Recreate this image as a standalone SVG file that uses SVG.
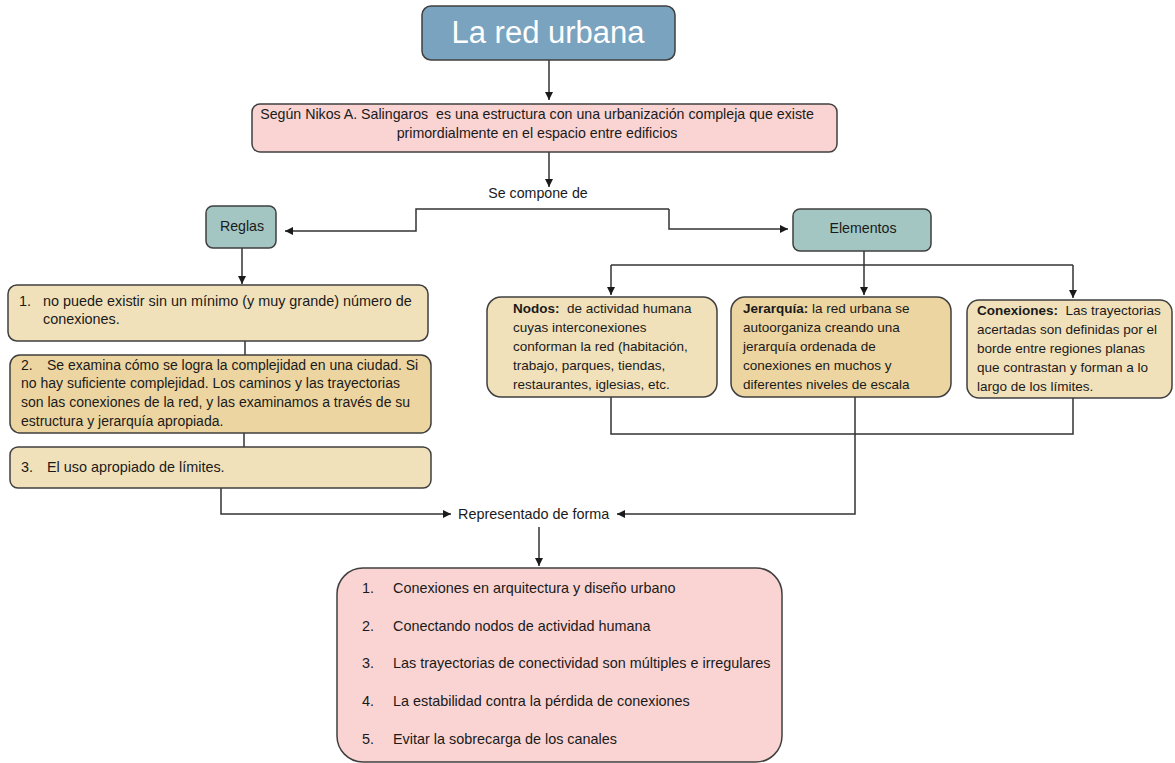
<svg xmlns="http://www.w3.org/2000/svg" width="1175" height="763" viewBox="0 0 1175 763">
<style>
text{font-family:"Liberation Sans",Arial,sans-serif;font-size:13.5px;fill:#1a1a1a;white-space:pre}
.title{font-size:31px;fill:#ffffff}
.l{font-size:14.4px}
.m{font-size:14.2px}
.s{font-size:14px}
.box{stroke:#3f3f3f;stroke-width:1.5}
.blue{fill:#7aa3bf}
.pink{fill:#f9d4d2}
.teal{fill:#a4c6c3}
.tan{fill:#f1e1bb}
.tan2{fill:#ecd5a1}
.c{fill:none;stroke:#333333;stroke-width:1.5}
.b{font-weight:bold}
.mid{text-anchor:middle}
</style>
<defs>
<marker id="ah" markerUnits="userSpaceOnUse" markerWidth="10" markerHeight="10" refX="8" refY="4" orient="auto">
<path d="M0,0 L8,4 L0,8 Z" fill="#1a1a1a"/>
</marker>
</defs>
<g id="connectors">
<path class="c" d="M549 60 V100" marker-end="url(#ah)"/>
<path class="c" d="M549 152 V187" marker-end="url(#ah)"/>
<path class="c" d="M669 209 H416 V231 H285" marker-end="url(#ah)"/>
<path class="c" d="M669 209 V229 H788" marker-end="url(#ah)"/>
<path class="c" d="M242 248 V284" marker-end="url(#ah)"/>
<path class="c" d="M245 341 V355"/>
<path class="c" d="M244 433 V447"/>
<path class="c" d="M221 488 V514 H451" marker-end="url(#ah)"/>
<path class="c" d="M864 251 V265"/>
<path class="c" d="M611 265 H1073"/>
<path class="c" d="M611 265 V295" marker-end="url(#ah)"/>
<path class="c" d="M864 265 V295" marker-end="url(#ah)"/>
<path class="c" d="M1073 265 V298" marker-end="url(#ah)"/>
<path class="c" d="M611 397 V434 H1073 V398"/>
<path class="c" d="M855 397 V514 H617" marker-end="url(#ah)"/>
<path class="c" d="M539 527 V566" marker-end="url(#ah)"/>
</g>
<g id="title">
<rect class="box blue" x="422" y="6" width="253" height="54" rx="9"/>
<text class="title mid" x="548" y="43">La red urbana</text>
</g>
<g id="definicion">
<rect class="box pink" x="252" y="104" width="585" height="48" rx="8"/>
<text class="m mid" x="537" y="119">Según Nikos A. Salingaros  es una estructura con una urbanización compleja que existe</text>
<text class="m mid" x="537" y="138">primordialmente en el espacio entre edificios</text>
</g>
<g id="se-compone">
<text class="m mid" x="538" y="198">Se compone de</text>
</g>
<g id="reglas">
<rect class="box teal" x="206" y="206" width="70" height="42" rx="7"/>
<text class="m mid" x="242" y="231">Reglas</text>
</g>
<g id="regla1">
<rect class="box tan" x="8" y="285" width="420" height="56" rx="9"/>
<text class="l" x="19" y="306">1.</text>
<text class="l" x="43" y="306">no puede existir sin un mínimo (y muy grande) número de</text>
<text class="l" x="43" y="324">conexiones.</text>
</g>
<g id="regla2">
<rect class="box tan2" x="10" y="355" width="421" height="78" rx="10"/>
<text class="s" x="21" y="370">2.</text>
<text class="s" x="47" y="370">Se examina cómo se logra la complejidad en una ciudad. Si</text>
<text class="s" x="21" y="388">no hay suficiente complejidad. Los caminos y las trayectorias</text>
<text class="s" x="21" y="407">son las conexiones de la red, y las examinamos a través de su</text>
<text class="s" x="21" y="426">estructura y jerarquía apropiada.</text>
</g>
<g id="regla3">
<rect class="box tan" x="10" y="447" width="421" height="41" rx="8"/>
<text class="l" x="21" y="472">3.</text>
<text class="l" x="47" y="472">El uso apropiado de límites.</text>
</g>
<g id="elementos">
<rect class="box teal" x="793" y="209" width="138" height="42" rx="7"/>
<text class="m mid" x="863" y="233">Elementos</text>
</g>
<g id="nodos">
<rect class="box tan" x="487" y="297" width="230" height="100" rx="14"/>
<text x="513" y="313"><tspan class="b">Nodos:</tspan>  de actividad humana</text>
<text x="513" y="332">cuyas interconexiones</text>
<text x="513" y="351">conforman la red (habitación,</text>
<text x="513" y="370">trabajo, parques, tiendas,</text>
<text x="513" y="389">restaurantes, iglesias, etc.</text>
</g>
<g id="jerarquia">
<rect class="box tan2" x="731" y="297" width="220" height="100" rx="14"/>
<text x="743" y="313"><tspan class="b">Jerarquía:</tspan> la red urbana se</text>
<text x="743" y="332">autoorganiza creando una</text>
<text x="743" y="351">jerarquía ordenada de</text>
<text x="743" y="370">conexiones en muchos y</text>
<text x="743" y="389">diferentes niveles de escala</text>
</g>
<g id="conexiones">
<rect class="box tan" x="967" y="300" width="205" height="98" rx="12"/>
<text x="977" y="315"><tspan class="b">Conexiones:</tspan>  Las trayectorias</text>
<text x="977" y="334">acertadas son definidas por el</text>
<text x="977" y="353">borde entre regiones planas</text>
<text x="977" y="372">que contrastan y forman a lo</text>
<text x="977" y="391">largo de los límites.</text>
</g>
<g id="representado">
<text class="l" x="458" y="519">Representado de forma</text>
</g>
<g id="formas">
<rect class="box pink" x="337" y="568" width="445" height="194" rx="26"/>
<text class="l" x="362" y="593">1.</text>
<text class="l" x="393" y="593">Conexiones en arquitectura y diseño urbano</text>
<text class="l" x="362" y="631">2.</text>
<text class="l" x="393" y="631">Conectando nodos de actividad humana</text>
<text class="l" x="362" y="668">3.</text>
<text class="l" x="393" y="668">Las trayectorias de conectividad son múltiples e irregulares</text>
<text class="l" x="362" y="706">4.</text>
<text class="l" x="393" y="706">La estabilidad contra la pérdida de conexiones</text>
<text class="l" x="362" y="744">5.</text>
<text class="l" x="393" y="744">Evitar la sobrecarga de los canales</text>
</g>
</svg>
